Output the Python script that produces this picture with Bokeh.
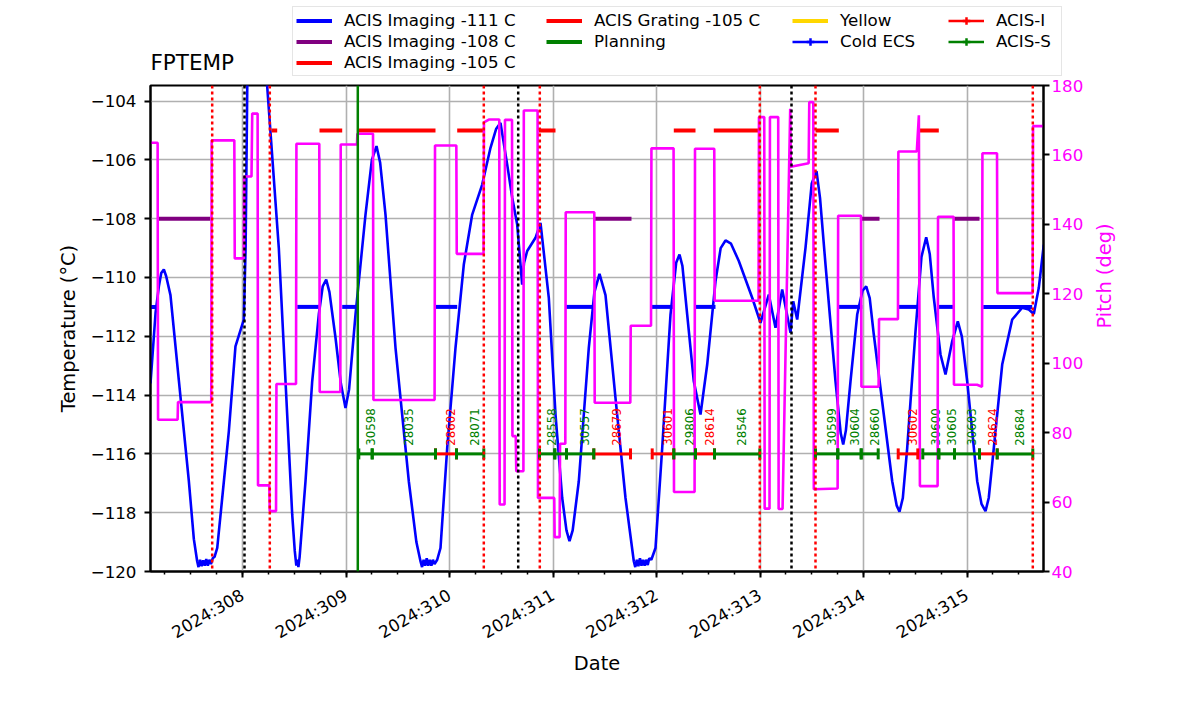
import math
from bokeh.plotting import figure
from bokeh.layouts import column
from bokeh.models import (Range1d, LinearAxis, FixedTicker, Span, Legend, LegendItem,
                          ColumnDataSource, Whisker, TeeHead, Label)
from bokeh.embed import file_html
from bokeh.resources import INLINE

FONT = "DejaVu Sans"
NAN = float("nan")

# ---------------- data (x = 2024 day-of-year) ----------------
temp_day = [307.1111, 307.160, 307.192, 307.215, 307.240, 307.262, 307.304, 307.385, 307.481, 307.530,
            307.562, 307.575, 307.590, 307.605, 307.620, 307.635, 307.650, 307.665, 307.680, 307.695,
            307.712, 307.730, 307.756, 307.804, 307.868, 307.932, 308.0126, 308.030, 308.046, 308.090,
            308.140, 308.2386, 308.3507, 308.4155, 308.4802, 308.505, 308.520, 308.530, 308.540, 308.552,
            308.6087, 308.6734, 308.7372, 308.775, 308.8087, 308.840, 308.8986, 308.950, 308.9952, 309.030,
            309.0918, 309.1884, 309.250, 309.2947, 309.330, 309.3816, 309.4783, 309.6068, 309.680, 309.7198,
            309.735, 309.750, 309.765, 309.780, 309.795, 309.810, 309.825, 309.840, 309.855, 309.8812,
            309.913, 309.9778, 310.058, 310.1382, 310.2193, 310.3159, 310.3961, 310.450, 310.4928, 310.5575,
            310.606, 310.654, 310.702, 310.720, 310.7507, 310.8309, 310.8792, 310.9594, 311.0242, 311.0889,
            311.130, 311.1594, 311.190, 311.2493, 311.3459, 311.400, 311.4493, 311.5072, 311.6039, 311.7005,
            311.7807, 311.795, 311.810, 311.825, 311.840, 311.855, 311.870, 311.885, 311.900, 311.915,
            311.930, 311.950, 311.9903, 312.0551, 312.1353, 312.190, 312.2222, 312.250, 312.2966, 312.3604,
            312.4251, 312.4899, 312.570, 312.620, 312.6667, 312.720, 312.7952, 312.9246, 313.0048, 313.085,
            313.1498, 313.2145, 313.2947, 313.3208, 313.3594, 313.4396, 313.500, 313.5459, 313.580, 313.6329,
            313.7295, 313.780, 313.8039, 313.830, 313.8744, 313.9391, 313.990, 314.0261, 314.060, 314.0995,
            314.1961, 314.2773, 314.320, 314.3478, 314.380, 314.4222, 314.5024, 314.560, 314.6058, 314.640,
            314.6792, 314.744, 314.7923, 314.857, 314.9111, 314.950, 315.0019, 315.0986, 315.140, 315.1787,
            315.210, 315.2589, 315.3401, 315.4367, 315.5333, 315.5971, 315.6454, 315.6937, 315.742]
temp_val = [-113.6, -111.2, -110.3, -109.85, -109.73, -109.95, -110.6, -113.5, -116.9, -118.9,
            -119.65, -119.85, -119.6, -119.82, -119.62, -119.8, -119.58, -119.8, -119.6, -119.75,
            -119.55, -119.5, -119.2, -117.5, -115.23, -112.34, -111.43, -109.0, -103.5, -100.0,
            -99.0, -103.5, -108.99, -113.53, -118.06, -119.3, -119.8, -119.6, -119.85, -119.5,
            -116.93, -113.53, -111.26, -110.3, -110.07, -110.5, -112.05, -113.6, -114.44, -113.8,
            -111.26, -107.86, -106.0, -105.53, -106.1, -107.86, -112.39, -116.93, -119.0, -119.65,
            -119.85, -119.6, -119.8, -119.55, -119.8, -119.6, -119.8, -119.6, -119.75, -119.6,
            -119.2, -115.8, -112.39, -109.56, -107.86, -106.84, -105.59, -104.95, -104.74, -106.16,
            -107.29, -108.2, -110.24, -109.5, -109.1, -108.65, -108.14, -110.69, -114.66, -117.5,
            -118.6, -118.97, -118.6, -116.93, -112.39, -110.5, -109.88, -110.6, -114.1, -117.5,
            -119.65, -119.85, -119.6, -119.82, -119.55, -119.8, -119.6, -119.8, -119.6, -119.78,
            -119.55, -119.6, -119.2, -115.8, -111.26, -109.5, -109.22, -109.6, -111.26, -113.53,
            -114.66, -112.96, -110.13, -109.0, -108.74, -108.85, -109.44, -110.69, -111.54, -110.58,
            -111.71, -110.41, -111.88, -110.81, -111.43, -108.99, -106.8, -106.38, -107.3, -109.56,
            -113.53, -115.3, -115.68, -115.2, -113.53, -111.26, -110.45, -110.3, -110.7, -111.94,
            -114.66, -116.93, -117.75, -117.97, -117.5, -115.8, -111.83, -109.3, -108.63, -109.2,
            -110.69, -112.62, -113.3, -112.17, -111.49, -112.0, -113.53, -116.93, -117.7, -117.95,
            -117.5, -115.8, -112.96, -111.43, -111.03, -111.09, -111.24, -110.35, -108.88]

pitch_day = [307.111, 307.180, 307.184, 307.373, 307.377, 307.698, 307.702, 307.921, 307.925, 308.012,
             308.016, 308.087, 308.094, 308.146, 308.150, 308.259, 308.263, 308.324, 308.328, 308.517,
             308.521, 308.742, 308.746, 308.945, 308.949, 309.106, 309.110, 309.261, 309.265, 309.856,
             309.860, 310.066, 310.070, 310.329, 310.333, 310.380, 310.481, 310.485, 310.532, 310.536,
             310.604, 310.608, 310.640, 310.645, 310.714, 310.718, 310.851, 310.855, 311.012, 311.016,
             311.064, 311.068, 311.119, 311.123, 311.399, 311.403, 311.747, 311.751, 311.947, 311.951,
             312.165, 312.169, 312.368, 312.372, 312.558, 312.562, 312.986, 312.990, 313.041, 313.045,
             313.092, 313.096, 313.176, 313.180, 313.218, 313.292, 313.298, 313.470, 313.476, 313.515,
             313.520, 313.750, 313.755, 313.976, 313.980, 314.146, 314.150, 314.333, 314.337, 314.515,
             314.535, 314.545, 314.716, 314.720, 314.870, 314.874, 315.097, 315.145, 315.149, 315.290,
             315.294, 315.634, 315.638, 315.739]
pitch_val = [163.5, 163.5, 83.7, 83.7, 88.8, 88.8, 164.2, 164.2, 130.2, 130.2,
             153.8, 153.8, 171.9, 171.9, 64.8, 64.8, 57.4, 57.4, 94.0, 94.0,
             163.2, 163.2, 91.7, 91.7, 163.0, 163.0, 166.1, 166.1, 89.4, 89.4,
             162.7, 162.7, 131.5, 131.5, 169.4, 170.2, 170.2, 59.3, 59.3, 170.1,
             170.1, 79.0, 79.0, 68.9, 68.9, 172.8, 172.8, 61.2, 61.2, 49.9,
             49.9, 76.8, 76.8, 143.5, 143.5, 88.6, 88.6, 110.8, 110.8, 161.9,
             161.9, 62.9, 62.9, 161.8, 161.8, 118.0, 118.0, 170.9, 170.9, 58.1,
             58.1, 170.9, 170.9, 58.0, 58.0, 173.3, 156.6, 157.6, 175.2, 175.2,
             63.7, 63.9, 142.5, 142.5, 93.2, 93.2, 112.7, 112.7, 161.0, 161.0,
             171.4, 64.6, 64.6, 142.2, 142.2, 93.8, 93.8, 93.2, 160.5, 160.5,
             120.2, 120.2, 168.3, 168.3]

# limit line segments
lim111_start = [307.1111, 308.5285, 308.9633, 309.8647, 311.1208, 311.9488, 312.3768, 313.7517, 314.3411, 314.7275, 315.1565]
lim111_end   = [307.1787, 308.7536, 309.1140, 310.0744, 311.3942, 312.1671, 312.5700, 313.9874, 314.5343, 314.8792, 315.6300]
lim108_start = [307.1855, 311.3942, 313.9778, 314.8725]
lim108_end   = [307.6908, 311.7585, 314.1546, 315.1208]
lim105_start = [308.2802, 308.7440, 309.1140, 310.0744, 310.8628, 312.1671, 312.5536, 313.5362, 314.5459]
lim105_end   = [308.3353, 308.9633, 309.8647, 310.3314, 311.0242, 312.3768, 312.9981, 313.7614, 314.7275]
LIM111, LIM108, LIM105 = -111.0, -108.0, -105.0

# vertical event lines
black_lines = [308.0193, 310.6638, 313.3043]
red_lines = [307.7072, 308.2638, 310.3314, 310.8725, 312.9981, 313.5362, 315.6357]
planning_lines = [309.114]

# obsids
obs_start = [309.1237, 309.2531, 309.8647, 310.0676, 310.8696, 311.0174, 311.1304, 311.3942, 311.9585,
             312.1671, 312.3768, 312.5604, 313.5362, 313.7517, 313.9778, 314.3353, 314.5729, 314.7275,
             314.8792, 315.1208, 315.2918]
obs_end   = [309.2531, 309.8647, 310.0676, 310.3314, 311.0174, 311.1304, 311.3942, 311.7488, 312.1671,
             312.3768, 312.5604, 312.9981, 313.7517, 313.9778, 314.1420, 314.5246, 314.7275, 314.8792,
             315.1208, 315.2918, 315.6357]
obs_name  = ["30598", "28035", "28602", "28071", "28558", "", "30557", "28679", "30601",
             "29806", "28614", "28546", "30599", "30604", "28660", "30602", "30600", "30605",
             "30603", "28624", "28684"]
obs_inst  = ["S", "S", "I", "S", "S", "S", "S", "I", "I",
             "S", "I", "S", "S", "S", "S", "I", "S", "S",
             "S", "I", "S"]
OBS_Y = -116.0
OBS_LABEL_Y = -115.72

x_major = [308, 309, 310, 311, 312, 313, 314, 315]
y_major = [-120, -118, -116, -114, -112, -110, -108, -106, -104]
pitch_major = [40, 60, 80, 100, 120, 140, 160, 180]

TOP_H = 76

# ---------------- main figure ----------------
p = figure(width=1184, height=624, output_backend="svg", toolbar_location=None, title=None,
           x_range=Range1d(307.1111, 315.7391), y_range=Range1d(-120.0, -103.47),
           min_border_left=150, min_border_right=141, min_border_top=9, min_border_bottom=129)
p.extra_y_ranges = {"pitch": Range1d(40, 180)}
p.background_fill_color = "white"
p.border_fill_color = "white"
p.outline_line_color = "black"
p.outline_line_width = 2

minor = [d + q for d in range(307, 316) for q in (0.0, 0.25, 0.5, 0.75) if 307.11 < d + q < 315.74]
p.xaxis.ticker = FixedTicker(ticks=x_major, minor_ticks=minor)
p.xaxis.major_label_overrides = {d: "2024:%d" % d for d in x_major}
p.xaxis.major_label_orientation = math.pi / 6
p.xaxis.axis_label = "Date"

p.yaxis.ticker = FixedTicker(ticks=y_major)
p.yaxis.major_label_overrides = {v: "\u2212%d" % abs(v) for v in y_major}
p.yaxis.axis_label = "Temperature (°C)"

p.xgrid.ticker = FixedTicker(ticks=x_major)
p.ygrid.ticker = FixedTicker(ticks=y_major)
for g in (p.xgrid, p.ygrid):
    g.grid_line_color = "#b0b0b0"
    g.grid_line_width = 1.6

rax = LinearAxis(y_range_name="pitch", axis_label="Pitch (deg)", ticker=FixedTicker(ticks=pitch_major))
p.add_layout(rax, "right")

for ax in (p.xaxis[0], p.yaxis[0], rax):
    ax.axis_line_width = 2
    ax.major_tick_line_width = 2
    ax.major_tick_out = 6
    ax.major_tick_in = 0
    ax.minor_tick_line_width = 1.5
    ax.minor_tick_out = 3
    ax.minor_tick_in = 0
    ax.major_label_text_font = FONT
    ax.major_label_text_font_size = "16.7px"
    ax.major_label_text_color = "black"
    ax.axis_label_text_font = FONT
    ax.axis_label_text_font_size = "19.4px"
    ax.axis_label_text_font_style = "normal"
    ax.axis_label_text_color = "black"
p.yaxis[0].minor_tick_line_color = None
p.yaxis[0].major_label_standoff = 8
p.yaxis[0].axis_label_standoff = 8
p.xaxis[0].major_label_standoff = 16
p.xaxis[0].axis_label_standoff = -2
rax.minor_tick_line_color = None
rax.major_label_standoff = 2
rax.axis_label_standoff = 18
rax.major_label_text_color = "#ff00ff"
rax.axis_label_text_color = "#ff00ff"
rax.axis_label_orientation = math.pi / 2

p.line(temp_day, temp_val, line_color="#0000ff", line_width=2.6)
for st, en, lv, col in ((lim111_start, lim111_end, LIM111, "#0000ff"),
                        (lim108_start, lim108_end, LIM108, "#800080"),
                        (lim105_start, lim105_end, LIM105, "#ff0000")):
    p.segment(x0=st, y0=[lv] * len(st), x1=en, y1=[lv] * len(en), line_color=col, line_width=4)

for d in black_lines:
    p.add_layout(Span(location=d, dimension="height", line_color="black", line_width=2.5, line_dash="3 3"))
for d in red_lines:
    p.add_layout(Span(location=d, dimension="height", line_color="#ff0000", line_width=2.5, line_dash="3 3"))
for d in planning_lines:
    p.add_layout(Span(location=d, dimension="height", line_color="#008000", line_width=2.5))

for inst, col in (("I", "#ff0000"), ("S", "#008000")):
    idx = [i for i, s in enumerate(obs_inst) if s == inst]
    src = ColumnDataSource(dict(
        base=[OBS_Y] * len(idx),
        lower=[obs_start[i] for i in idx],
        upper=[obs_end[i] for i in idx],
        mid=[0.5 * (obs_start[i] + obs_end[i]) for i in idx],
        ly=[OBS_LABEL_Y] * len(idx),
        name=[obs_name[i] for i in idx]))
    w = Whisker(source=src, base="base", lower="lower", upper="upper", dimension="width",
                line_color=col, line_width=3, level="glyph",
                lower_head=TeeHead(size=11, line_color=col, line_width=3),
                upper_head=TeeHead(size=11, line_color=col, line_width=3))
    p.add_layout(w)
    p.text(x="mid", y="ly", text="name", source=src, angle=math.pi / 2,
           text_align="left", text_baseline="top", text_color=col,
           text_font={"value": FONT}, text_font_size="11.8px")

p.line(pitch_day, pitch_val, y_range_name="pitch", line_color="#ff00ff", line_width=2.6)

# ---------------- header strip: title + legend ----------------
top = figure(width=1184, height=TOP_H, output_backend="svg", toolbar_location=None, title=None,
             x_axis_type=None, y_axis_type=None, min_border=0,
             x_range=Range1d(0, 1), y_range=Range1d(0, 1))
top.outline_line_color = None
top.background_fill_color = "white"
top.border_fill_color = "white"
for fig in (top, p):
    if "frame_align" in fig.properties():
        fig.frame_align = False

top.add_layout(Label(x=150, y=14, x_units="screen", y_units="screen", text="FPTEMP",
                     text_font=FONT, text_font_size="21.5px", text_color="black",
                     text_baseline="alphabetic", text_align="left"))

# legend proxies (no visible data)
h111 = top.line([NAN], [NAN], line_color="#0000ff", line_width=4)
h108 = top.line([NAN], [NAN], line_color="#800080", line_width=4)
h105 = top.line([NAN], [NAN], line_color="#ff0000", line_width=4)
hgr = top.line([NAN], [NAN], line_color="#ff0000", line_width=4)
hplan = top.line([NAN], [NAN], line_color="#008000", line_width=4)
hyel = top.line([NAN], [NAN], line_color="#ffd700", line_width=4)
hecs_l = top.line([NAN], [NAN], line_color="#0000ff", line_width=2.5)
hecs_m = top.scatter([NAN], [NAN], marker="cross", line_color="#0000ff", line_width=2.5, size=10)
hi_l = top.line([NAN], [NAN], line_color="#ff0000", line_width=2.5)
hi_m = top.scatter([NAN], [NAN], marker="cross", line_color="#ff0000", line_width=2.5, size=10)
hs_l = top.line([NAN], [NAN], line_color="#008000", line_width=2.5)
hs_m = top.scatter([NAN], [NAN], marker="cross", line_color="#008000", line_width=2.5, size=10)

common = dict(label_text_font=FONT, label_text_font_size="16.7px", label_text_color="black",
              glyph_width=36, glyph_height=19, label_height=19, label_standoff=12, spacing=1,
              padding=3, margin=0, orientation="vertical")
legA = Legend(items=[LegendItem(label="ACIS Imaging -111 C", renderers=[h111]),
                     LegendItem(label="ACIS Imaging -108 C", renderers=[h108]),
                     LegendItem(label="ACIS Imaging -105 C", renderers=[h105])],
              location=(292, 0), label_width=714, border_line_color="#cccccc",
              border_line_width=1, background_fill_color="white", background_fill_alpha=1.0, **common)
legB = Legend(items=[LegendItem(label="ACIS Grating -105 C", renderers=[hgr]),
                     LegendItem(label="Planning", renderers=[hplan])],
              location=(546, 25), border_line_color=None, background_fill_alpha=0, **common)
legC = Legend(items=[LegendItem(label="Yellow", renderers=[hyel]),
                     LegendItem(label="Cold ECS", renderers=[hecs_l, hecs_m])],
              location=(792, 25), border_line_color=None, background_fill_alpha=0, **common)
legD = Legend(items=[LegendItem(label="ACIS-I", renderers=[hi_l, hi_m]),
                     LegendItem(label="ACIS-S", renderers=[hs_l, hs_m])],
              location=(948, 25), border_line_color=None, background_fill_alpha=0, **common)
for lg in (legA, legB, legC, legD):
    top.add_layout(lg, "center")

layout = column(top, p, spacing=0)
open("out.html", "w").write(file_html(layout, INLINE))
